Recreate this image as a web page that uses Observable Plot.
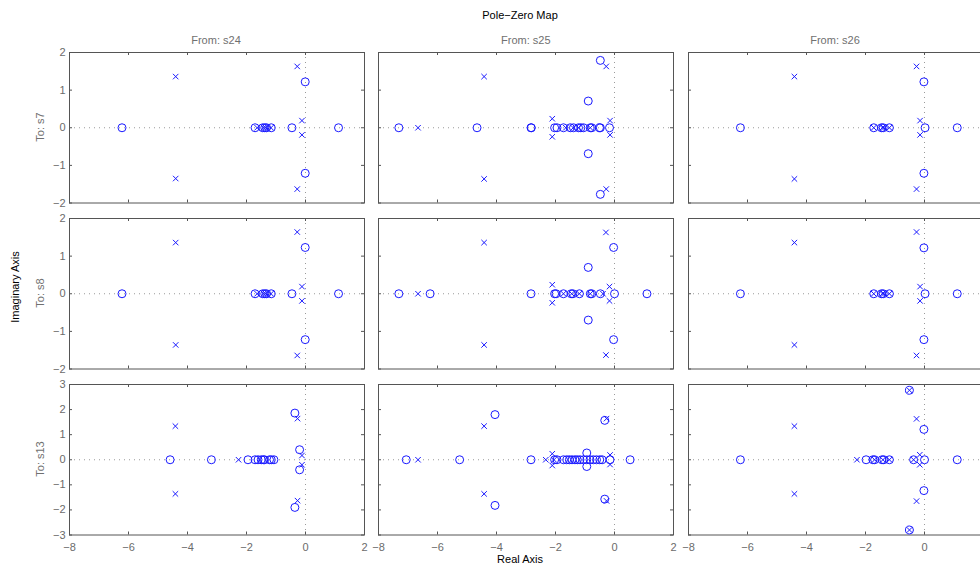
<!DOCTYPE html>
<html>
<head>
<meta charset="utf-8">
<script src="https://cdn.jsdelivr.net/npm/d3@7"></script>
<script src="https://cdn.jsdelivr.net/npm/@observablehq/plot@0.6"></script>
<style>
  body { margin: 0; background: #fff; }
  #fig { position: relative; width: 980px; height: 569px; overflow: hidden; background: #fff;
         font-family: "Liberation Sans", Arial, Helvetica, sans-serif; }
  .lbl { position: absolute; white-space: nowrap; font-size: 11px; line-height: 1;
         transform: translate(-50%, -50%); }
  .rot { transform: translate(-50%, -50%) rotate(-90deg); }
</style>
</head>
<body>
<div id="fig"></div>
<script>
// Inputs (columns) and outputs (rows) of the MIMO system
const inputs = ["s24", "s25", "s26"];
const outputs = ["s7", "s8", "s13"];

// Axis ticks
const xTicks = [-8, -6, -4, -2, 0, 2];
const yTicksRow = [[-2, -1, 0, 1, 2], [-2, -1, 0, 1, 2], [-3, -2, -1, 0, 1, 2, 3]];

// Zeros and poles as [real, imaginary]
const zeros_s7_s24 = [[-6.22, 0], [-1.71, 0], [-1.45, 0], [-1.38, 0], [-1.32, 0], [-1.16, 0], [-0.46, 0], [1.12, 0], [-0.01, 1.22], [-0.01, -1.21]];
const poles_s7_s24 = [[-4.40, 1.36], [-4.40, -1.35], [-1.64, 0], [-1.42, 0], [-1.35, 0], [-1.17, 0], [-0.28, 1.63], [-0.28, -1.63], [-0.12, 0.19], [-0.12, -0.19]];

const zeros_s7_s25 = [[-7.31, 0], [-4.66, 0], [-2.83, 0], [-2.82, 0], [-2.03, 0], [-1.95, 0], [-1.73, 0], [-1.50, 0], [-1.39, 0], [-1.22, 0], [-1.14, 0], [-1.05, 0], [-0.82, 0], [-0.77, 0], [-0.51, 0], [-0.48, 0], [-0.17, 0], [-0.89, 0.71], [-0.89, -0.69], [-0.48, 1.79], [-0.48, -1.77]];
const poles_s7_s25 = [[-6.66, 0], [-4.42, 1.36], [-4.42, -1.36], [-2.11, 0.24], [-2.11, -0.24], [-1.65, 0], [-1.40, 0], [-1.22, 0], [-0.82, 0], [-0.28, 1.63], [-0.28, -1.63], [-0.15, 0.19], [-0.15, -0.19]];

const zeros_s7_s26 = [[-6.24, 0], [-1.72, 0], [-1.46, 0], [-1.40, 0], [-1.19, 0], [0.02, 0], [1.11, 0], [-0.02, 1.22], [-0.02, -1.21]];
const poles_s7_s26 = [[-4.41, 1.36], [-4.41, -1.36], [-1.72, 0], [-1.43, 0], [-1.38, 0], [-1.19, 0], [-0.27, 1.63], [-0.27, -1.63], [-0.15, 0.19], [-0.15, -0.19]];

const zeros_s8_s24 = [[-6.22, 0], [-1.71, 0], [-1.45, 0], [-1.38, 0], [-1.32, 0], [-1.16, 0], [-0.46, 0], [1.12, 0], [-0.01, 1.23], [-0.01, -1.22]];
const poles_s8_s24 = [[-4.40, 1.36], [-4.40, -1.36], [-1.64, 0], [-1.42, 0], [-1.35, 0], [-1.17, 0], [-0.28, 1.64], [-0.28, -1.64], [-0.12, 0.19], [-0.12, -0.19]];

const zeros_s8_s25 = [[-7.31, 0], [-6.25, 0], [-2.83, 0], [-2.03, 0], [-1.98, 0], [-1.73, 0], [-1.47, 0], [-1.41, 0], [-1.19, 0], [-0.82, 0], [-0.77, 0], [-0.48, 0], [0, 0], [1.10, 0], [-0.89, 0.70], [-0.89, -0.70], [-0.03, 1.23], [-0.03, -1.22]];
const poles_s8_s25 = [[-6.66, 0], [-4.42, 1.36], [-4.42, -1.36], [-2.11, 0.24], [-2.11, -0.24], [-1.73, 0], [-1.45, 0], [-1.19, 0], [-0.82, 0], [-0.39, 0], [-0.29, 1.63], [-0.29, -1.63], [-0.17, 0.19], [-0.17, -0.19]];

const zeros_s8_s26 = [[-6.24, 0], [-1.72, 0], [-1.46, 0], [-1.40, 0], [-1.19, 0], [0.02, 0], [1.11, 0], [-0.02, 1.22], [-0.02, -1.22]];
const poles_s8_s26 = [[-4.41, 1.36], [-4.41, -1.36], [-1.72, 0], [-1.43, 0], [-1.38, 0], [-1.19, 0], [-0.27, 1.64], [-0.27, -1.64], [-0.15, 0.19], [-0.15, -0.19]];

const zeros_s13_s24 = [[-4.59, 0], [-3.19, 0], [-1.95, 0], [-1.71, 0], [-1.61, 0], [-1.50, 0], [-1.43, 0], [-1.39, 0], [-1.22, 0], [-1.16, 0], [-1.07, 0], [-0.36, 1.86], [-0.36, -1.90], [-0.20, 0.40], [-0.20, -0.40]];
const poles_s13_s24 = [[-4.41, 1.34], [-4.41, -1.36], [-2.27, 0], [-0.27, 1.64], [-0.27, -1.63], [-0.12, 0.17], [-0.12, -0.20]];

const zeros_s13_s25 = [[-7.06, 0], [-5.25, 0], [-2.83, 0], [-2.03, 0], [-1.95, 0], [-1.73, 0], [-1.62, 0], [-1.53, 0], [-1.44, 0], [-1.34, 0], [-1.26, 0], [-1.17, 0], [-1.05, 0], [-0.94, 0], [-0.83, 0], [-0.72, 0], [-0.61, 0], [-0.50, 0], [-0.42, 0], [-0.15, 0], [0.53, 0], [-4.05, 1.80], [-4.05, -1.82], [-0.94, 0.27], [-0.94, -0.27], [-0.33, 1.57], [-0.33, -1.57]];
const poles_s13_s25 = [[-6.66, 0], [-4.42, 1.34], [-4.42, -1.36], [-2.33, 0], [-2.11, 0.24], [-2.11, -0.23], [-2.05, 0], [-0.27, 1.64], [-0.27, -1.64], [-0.15, 0.19], [-0.15, -0.19]];

const zeros_s13_s26 = [[-6.24, 0], [-1.98, 0], [-1.75, 0], [-1.69, 0], [-1.44, 0], [-1.38, 0], [-1.19, 0], [-0.37, 0], [0, 0], [1.11, 0], [-0.51, 2.77], [-0.51, -2.80], [-0.02, 1.21], [-0.02, -1.23]];
const poles_s13_s26 = [[-4.41, 1.34], [-4.41, -1.36], [-2.29, 0], [-1.69, 0], [-1.41, 0], [-1.19, 0], [-0.37, 0], [-0.51, 2.77], [-0.51, -2.80], [-0.27, 1.63], [-0.27, -1.65], [-0.16, 0.20], [-0.16, -0.20]];

const panelZeros = [
  [zeros_s7_s24, zeros_s7_s25, zeros_s7_s26],
  [zeros_s8_s24, zeros_s8_s25, zeros_s8_s26],
  [zeros_s13_s24, zeros_s13_s25, zeros_s13_s26]
];
const panelPoles = [
  [poles_s7_s24, poles_s7_s25, poles_s7_s26],
  [poles_s8_s24, poles_s8_s25, poles_s8_s26],
  [poles_s13_s24, poles_s13_s25, poles_s13_s26]
];

// Layout of the 3x3 grid of axes (frame positions in the figure)
const colLeft = [68.5, 378.3, 687.5];
const rowTop = [52.3, 218.3, 384.3];
const frameW = 295, frameH = 150.5;
const mL = 34, mR = 8, mT = 6, mB = 24;

const fmt = d => (d < 0 ? "\u2212" + (-d) : String(d));
const fig = document.getElementById("fig");

function label(text, x, y, opts = {}) {
  const el = document.createElement("div");
  el.className = "lbl" + (opts.rotate ? " rot" : "");
  el.textContent = text;
  el.style.left = x + "px";
  el.style.top = y + "px";
  el.style.color = opts.color || "#000";
  fig.appendChild(el);
}

for (let r = 0; r < 3; r++) {
  for (let c = 0; c < 3; c++) {
    const yTicks = yTicksRow[r];
    const yDomain = [yTicks[0], yTicks[yTicks.length - 1]];
    const marks = [
      Plot.ruleY([0], {stroke: "#9a9a9a", strokeDasharray: "1,4"}),
      Plot.ruleX([0], {stroke: "#9a9a9a", strokeDasharray: "1,4"}),
      Plot.tickX(xTicks, {insetBottom: frameH - 3, stroke: "#555"}),
      Plot.tickX(xTicks, {insetTop: frameH - 3, stroke: "#555"}),
      Plot.tickY(yTicks, {insetRight: frameW - 3, stroke: "#555"}),
      Plot.tickY(yTicks, {insetLeft: frameW - 3, stroke: "#555"}),
      Plot.frame({stroke: "#555"}),
      Plot.dot(panelZeros[r][c], {x: d => d[0], y: d => d[1], r: 4, stroke: "#1a1aff", fill: "none", strokeWidth: 1}),
      Plot.dot(panelPoles[r][c], {x: d => d[0], y: d => d[1], symbol: "times", r: 2.6, stroke: "#1a1aff", strokeWidth: 1})
    ];
    if (c === 0) marks.push(Plot.axisY({ticks: yTicks, tickSize: 0, tickPadding: 4, label: null, tickFormat: fmt}));
    if (r === 2) marks.push(Plot.axisX({ticks: xTicks, tickSize: 0, tickPadding: 8, label: null, tickFormat: fmt}));

    const svg = Plot.plot({
      width: frameW + mL + mR,
      height: frameH + mT + mB,
      marginLeft: mL, marginRight: mR, marginTop: mT, marginBottom: mB,
      style: {background: "transparent", overflow: "visible", fontFamily: "Liberation Sans, Arial, sans-serif", fontSize: "11px", color: "#6b6b6b"},
      x: {domain: [-8, 2], axis: null},
      y: {domain: yDomain, axis: null},
      marks
    });
    svg.style.position = "absolute";
    svg.style.left = (colLeft[c] - mL) + "px";
    svg.style.top = (rowTop[r] - mT) + "px";
    svg.style.maxWidth = "none";
    fig.appendChild(svg);
  }
}

// Titles and axis labels
label("Pole\u2212Zero Map", 520, 15);
inputs.forEach((s, c) => label("From: " + s, colLeft[c] + frameW / 2, 40, {color: "#707070"}));
outputs.forEach((s, r) => label("To: " + s, 40, rowTop[r] + frameH / 2 - 1, {rotate: true, color: "#707070"}));
label("Imaginary Axis", 15, 287, {rotate: true});
label("Real Axis", 520, 559);
</script>
</body>
</html>
